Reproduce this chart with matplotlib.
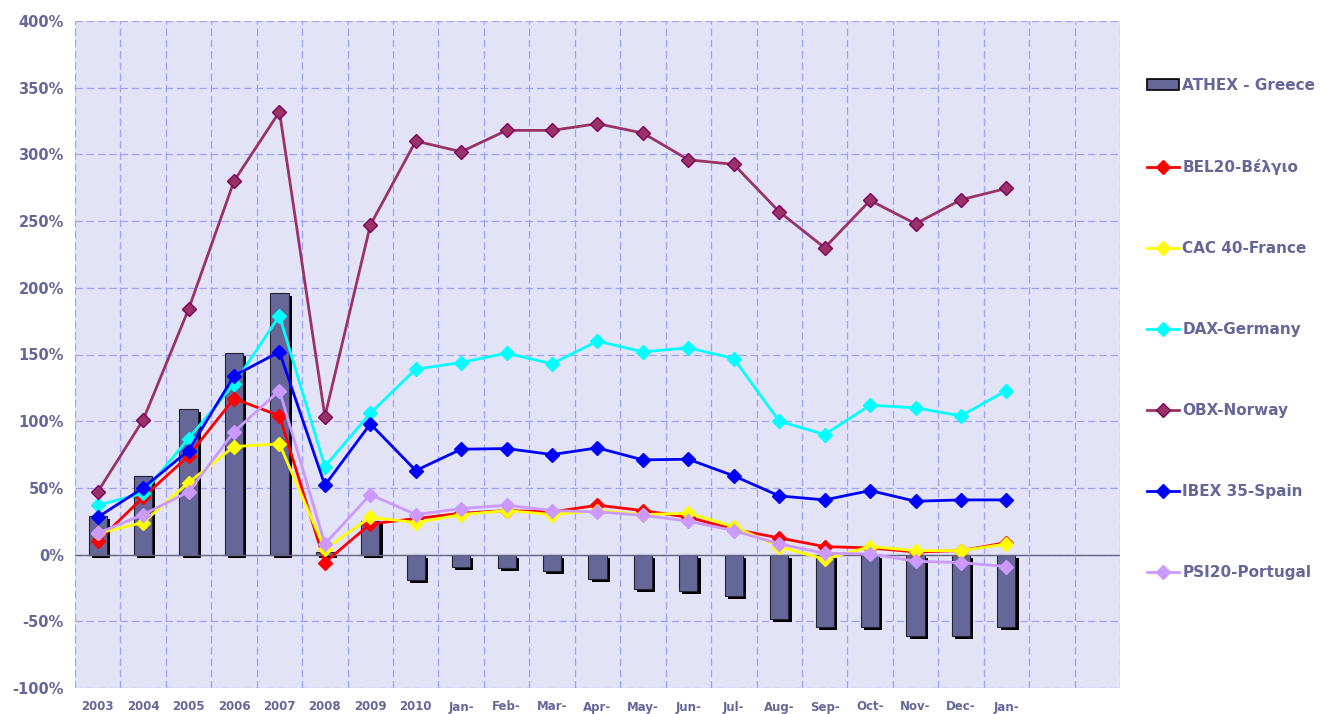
import matplotlib
matplotlib.use("Agg")
import matplotlib.pyplot as plt
import matplotlib.patheffects as pe
from matplotlib.patches import Patch
from matplotlib.lines import Line2D
import numpy as np

categories = ["2003", "2004", "2005", "2006", "2007", "2008", "2009", "2010",
              "Jan-", "Feb-", "Mar-", "Apr-", "May-", "Jun-", "Jul-", "Aug-",
              "Sep-", "Oct-", "Nov-", "Dec-", "Jan-", "", ""]

athex = [29, 59, 109, 151, 196, 2, 25, -19, -9, -10, -12.5, -18, -25.5, -27, -31,
         -48, -54.5, -54, -61, -61, -54.5]
bel20 = [10, 43, 74, 117, 104, -6, 23, 27, 31, 33, 32, 37, 33, 28, 19, 12.5, 6, 5, 2, 3, 9]
cac40 = [16, 24, 54, 81, 83, 4, 28, 24, 30, 33, 30, 33, 30, 31, 21, 6, -3.5, 6, 3, 3, 8]
dax = [37, 46, 87, 128, 179, 66, 106, 139, 144, 151, 143, 160, 152, 155, 147, 100, 90,
       112, 110, 104, 123]
obx = [47, 101, 184, 280, 332, 103.5, 247, 310, 302, 318, 318, 323, 316, 296, 292.5,
       257, 230, 265.5, 248, 266, 274.5]
ibex = [28, 50, 78, 134, 152, 52, 98, 63, 79, 79.5, 75, 80, 71, 71.5, 59, 44, 41, 48,
        40, 41, 41]
psi20 = [16, 30, 47, 92, 123, 8, 45, 30, 34.5, 37, 33, 32, 29.5, 25, 18, 8, 1, 0.5,
         -5, -6, -9]

series_names = ["ATHEX - Greece", "BEL20-Βέλγιο", "CAC 40-France", "DAX-Germany",
                "OBX-Norway", "IBEX 35-Spain", "PSI20-Portugal"]
y_ticks = [-100, -50, 0, 50, 100, 150, 200, 250, 300, 350, 400]

TXT = "#666699"
fig = plt.figure(figsize=(13.2, 7.14), dpi=100)
ax = fig.add_axes([75/1320, 1-688/714, (1120-75)/1320, (688-21)/714])
ax.set_facecolor("#E3E3F8")

n = len(athex)
x = np.arange(n)

bars = ax.bar(x, athex, width=0.4, color="#666699", edgecolor="#222233", linewidth=0.8,
              zorder=3)
for b in bars:
    b.set_path_effects([pe.SimplePatchShadow(offset=(2.3, -2.3), shadow_rgbFace="black",
                                             alpha=1.0), pe.Normal()])

ax.axhline(0, color="#666680", lw=1.0, zorder=4)

line_specs = [
    (bel20, "#FF0000", "#FF0000"),
    (cac40, "#FFFF00", "#FFFF00"),
    (dax, "#00FFFF", "#00FFFF"),
    (obx, "#993366", "#800060"),
    (ibex, "#0000FF", "#0000FF"),
    (psi20, "#CC99FF", "#CC99FF"),
]
for vals, c, ec in line_specs:
    ax.plot(np.arange(len(vals)), vals, color=c, lw=2.0, marker="D", markersize=6.8,
            markerfacecolor=c, markeredgecolor=ec, markeredgewidth=1.0, zorder=5)

ax.set_xlim(-0.5, len(categories) - 0.5)
ax.set_ylim(-100, 400)

ax.set_yticks(y_ticks)
ax.set_yticklabels([f"{v}%" for v in y_ticks], fontsize=10.5, fontweight="bold",
                   color=TXT)
ax.set_xticks(np.arange(len(categories)))
ax.set_xticklabels(categories, fontsize=8.5, fontweight="bold", color=TXT)
ax.tick_params(axis="x", length=0, pad=9)
ax.tick_params(axis="y", length=0, pad=8)

grid_kw = dict(color="#A0A0F8", lw=0.9, linestyle=(0, (6, 3)), zorder=1)
for v in y_ticks:
    ax.axhline(v, **grid_kw)
for k in range(len(categories) + 1):
    ax.axvline(k - 0.5, **grid_kw)

for s in ax.spines.values():
    s.set_visible(False)

handles = [Patch(facecolor="#666699", edgecolor="black", linewidth=1.2)]
for vals, c, ec in line_specs:
    handles.append(Line2D([], [], color=c, lw=2.0, marker="D", markersize=6.8,
                          markerfacecolor=c, markeredgecolor=ec))
leg = fig.legend(handles, series_names, loc="upper left",
                 bbox_to_anchor=(1147/1320, 1-78/714), frameon=False,
                 prop={"weight": "bold", "size": 11}, labelcolor=TXT,
                 labelspacing=4.32, handlelength=2.1, handletextpad=0.2,
                 handleheight=0.7, borderaxespad=0, borderpad=0)

fig.savefig("out.png", dpi=100)
